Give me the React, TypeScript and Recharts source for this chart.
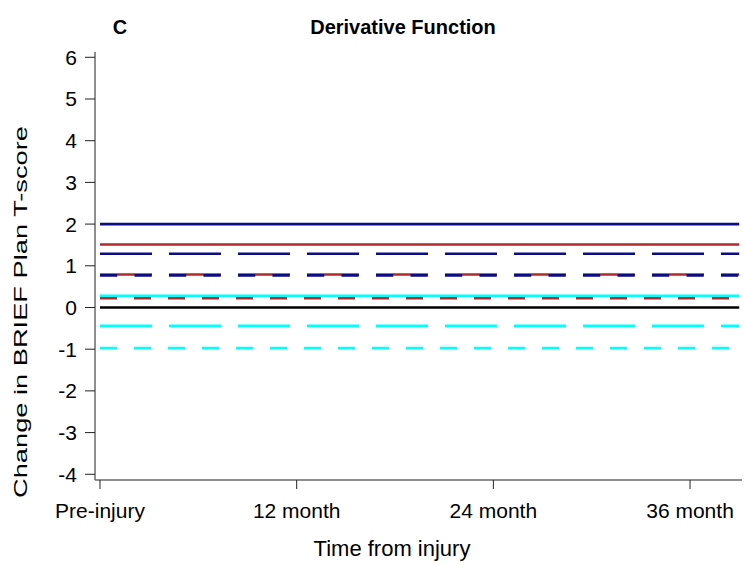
import React from 'react';
import { LineChart, Line, XAxis, YAxis } from 'recharts';

// Time points (months from injury) at which the derivative is shown
const timeMonths = [0, 39];
const xTickValues = [0, 12, 24, 36];
const xTickLabels = ['Pre-injury', '12 month', '24 month', '36 month'];
const yTickValues = [-4, -3, -2, -1, 0, 1, 2, 3, 4, 5, 6];

// Series values (constant derivative)
const navySolid = [2.0, 2.0];
const redSolid = [1.51, 1.51];
const navyLongDash = [1.29, 1.29];
const redLongDash = [0.79, 0.79];
const navyDash = [0.77, 0.77];
const cyanSolid = [0.28, 0.28];
const redShortDash = [0.22, 0.22];
const blackZero = [0, 0];
const cyanLongDash = [-0.44, -0.44];
const cyanShortDash = [-0.97, -0.97];

const NAVY = '#0c0c84';
const RED = '#b22a2a';
const CYAN = '#00ffff';
const FONT = '"Liberation Sans", Arial, Helvetica, sans-serif';

const seriesDefs = [
  { key: 'redShortDash', values: redShortDash, color: RED, dash: '17 17' },
  { key: 'cyanSolid', values: cyanSolid, color: CYAN, dash: undefined },
  { key: 'navySolid', values: navySolid, color: NAVY, dash: undefined },
  { key: 'redSolid', values: redSolid, color: RED, dash: undefined },
  { key: 'navyLongDash', values: navyLongDash, color: NAVY, dash: '52 17' },
  { key: 'redLongDash', values: redLongDash, color: RED, dash: '52 17' },
  { key: 'navyDash', values: navyDash, color: NAVY, dash: '17.25 17.25' },
  { key: 'blackZero', values: blackZero, color: '#000000', dash: undefined },
  { key: 'cyanLongDash', values: cyanLongDash, color: CYAN, dash: '52 17' },
  { key: 'cyanShortDash', values: cyanShortDash, color: CYAN, dash: '17 17' },
];

const data = timeMonths.map((m, i) => {
  const row: Record<string, number> = { month: m };
  seriesDefs.forEach((s) => {
    row[s.key] = s.values[i];
  });
  return row;
});

const xLabel = (v: number) => {
  const idx = xTickValues.indexOf(v);
  return idx >= 0 ? xTickLabels[idx] : String(v);
};

export default function App() {
  return (
    <div style={{ position: 'absolute', left: 0, top: 0, width: 745, height: 565, background: '#fff' }}>
      <LineChart
        width={745}
        height={565}
        data={data}
        margin={{ top: 52, right: 3, bottom: 35, left: 35 }}
      >
        <XAxis
          dataKey="month"
          type="number"
          domain={[-0.305, 39.17]}
          allowDataOverflow
          ticks={xTickValues}
          tickFormatter={xLabel}
          interval={0}
          height={50}
          tickSize={9}
          tickMargin={14}
          axisLine={{ stroke: '#6a6a6a', strokeWidth: 1.5 }}
          tickLine={{ stroke: '#222', strokeWidth: 1 }}
          tick={{ fill: '#000', fontSize: 21, fontFamily: FONT }}
        />
        <YAxis
          type="number"
          domain={[-4.137, 6.127]}
          allowDataOverflow
          ticks={yTickValues}
          interval={0}
          width={60}
          tickSize={10}
          tickMargin={8}
          axisLine={{ stroke: '#6a6a6a', strokeWidth: 1.5 }}
          tickLine={{ stroke: '#222', strokeWidth: 1 }}
          tick={{ fill: '#000', fontSize: 21, fontFamily: FONT }}
        />
        {seriesDefs.map((s) => (
          <Line
            key={s.key}
            dataKey={s.key}
            type="linear"
            stroke={s.color}
            strokeWidth={2.6}
            strokeDasharray={s.dash}
            dot={false}
            activeDot={false}
            isAnimationActive={false}
          />
        ))}
      </LineChart>
      <svg
        width={745}
        height={565}
        style={{ position: 'absolute', left: 0, top: 0, pointerEvents: 'none' }}
      >
        <text x={120} y={34} textAnchor="middle" fontFamily={FONT} fontWeight="bold" fontSize={20} fill="#000">
          C
        </text>
        <text x={403} y={34} textAnchor="middle" fontFamily={FONT} fontWeight="bold" fontSize={20} fill="#000">
          Derivative Function
        </text>
        <text x={392} y={556} textAnchor="middle" fontFamily={FONT} fontSize={22} fill="#000">
          Time from injury
        </text>
        <text
          x={0}
          y={0}
          transform="translate(27, 312) rotate(-90)"
          textAnchor="middle"
          fontFamily={FONT}
          fontSize={19}
          textLength={372}
          lengthAdjust="spacingAndGlyphs"
          fill="#000"
        >
          Change in BRIEF Plan T-score
        </text>
      </svg>
    </div>
  );
}
